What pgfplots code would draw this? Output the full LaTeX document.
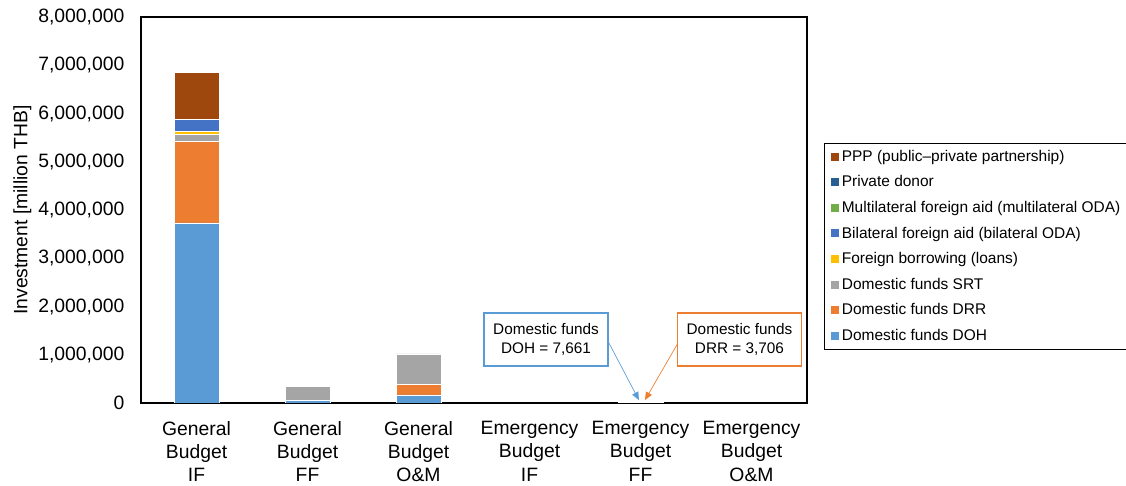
\documentclass[border=0pt]{standalone}
\usepackage{pgfplots}
\pgfplotsset{compat=1.18}
\usepackage{fontspec}
\setmainfont{Liberation Sans}
\usetikzlibrary{arrows.meta}
\definecolor{cDOH}{HTML}{5B9BD5}
\definecolor{cDRR}{HTML}{ED7D31}
\definecolor{cSRT}{HTML}{A5A5A5}
\definecolor{cLoan}{HTML}{FFC000}
\definecolor{cBil}{HTML}{4472C4}
\definecolor{cMul}{HTML}{70AD47}
\definecolor{cPriv}{HTML}{255E91}
\definecolor{cPPP}{HTML}{9E480E}
\begin{document}
\begin{tikzpicture}
\begin{axis}[
  scale only axis,
  width=499.5pt, height=289.5pt,
  ybar stacked,
  bar width=0.405,
  xmin=-0.5, xmax=5.5,
  ymin=0, ymax=8000000,
  xtick={0,1,2,3,4,5},
  xticklabels={{General\\Budget\\IF},{General\\Budget\\FF},{General\\Budget\\O\&M},{Emergency\\Budget\\IF},{Emergency\\Budget\\FF},{Emergency\\Budget\\O\&M}},
  xticklabel style={align=center, font=\fontsize{14.5}{17.6}\selectfont, yshift=-10pt},
  ytick={0,1000000,2000000,3000000,4000000,5000000,6000000,7000000,8000000},
  scaled y ticks=false,
  /pgf/number format/assume math mode=true,
  yticklabel={\pgfmathprintnumber[fixed,1000 sep={,}]{\tick}},
  yticklabel style={font=\fontsize{14.5}{17}\selectfont, xshift=-9pt},
  major tick length=0pt,
  axis line style={line width=1.5pt},
  ylabel={Investment [million THB]},
  ylabel style={font=\fontsize{14.5}{17}\selectfont, at={(axis description cs:-0.178,0.5)}, anchor=center},
  reverse legend,
  legend style={at={(axis description cs:1.0255,0.674)}, anchor=north west,
    font=\fontsize{11.6}{13}\selectfont, draw=black, line width=0.8pt,
    row sep=5.3pt, inner xsep=5pt, inner ysep=3pt},
  legend cell align=left,
  legend image code/.code={\fill[#1,draw=none] (0pt,-3pt) rectangle (6pt,3pt);},
  every axis plot/.append style={draw=white, line width=0.4pt},
]
\addplot[fill=cDOH] coordinates {(0,3735000) (1,50000) (2,170000) (3,0) (4,7661) (5,0)};
\addlegendentry{Domestic funds DOH}
\addplot[fill=cDRR] coordinates {(0,1690000) (1,0) (2,220000) (3,0) (4,3706) (5,0)};
\addlegendentry{Domestic funds DRR}
\addplot[fill=cSRT] coordinates {(0,150000) (1,295000) (2,630000) (3,0) (4,0) (5,0)};
\addlegendentry{Domestic funds SRT}
\addplot[fill=cLoan] coordinates {(0,50000) (1,0) (2,0) (3,0) (4,0) (5,0)};
\addlegendentry{Foreign borrowing (loans)}
\addplot[fill=cBil] coordinates {(0,250000) (1,0) (2,0) (3,0) (4,0) (5,0)};
\addlegendentry{Bilateral foreign aid (bilateral ODA)}
\addplot[fill=cMul] coordinates {(0,0) (1,0) (2,0) (3,0) (4,0) (5,0)};
\addlegendentry{Multilateral foreign aid (multilateral ODA)}
\addplot[fill=cPriv] coordinates {(0,0) (1,0) (2,0) (3,0) (4,0) (5,0)};
\addlegendentry{Private donor}
\addplot[fill=cPPP] coordinates {(0,985000) (1,0) (2,0) (3,0) (4,0) (5,0)};
\addlegendentry{PPP (public{\textendash}private partnership)}
\node[draw=cDOH, line width=1.3pt, fill=white, align=center, minimum width=93pt, minimum height=40pt, font=\fontsize{11.5}{14}\selectfont] at (axis cs:3.149,1320000) {Domestic funds\\DOH = 7,661};
\node[draw=cDRR, line width=1.3pt, fill=white, align=center, minimum width=93pt, minimum height=40pt, font=\fontsize{11.5}{14}\selectfont] at (axis cs:4.892,1320000) {Domestic funds\\DRR = 3,706};
\draw[cDOH, line width=0.5pt, -{Triangle[length=6pt,width=5pt]}] (axis cs:3.707,1280000) -- (axis cs:3.986,60000);
\draw[cDRR, line width=0.5pt, -{Triangle[length=6pt,width=5pt]}] (axis cs:4.347,1280000) -- (axis cs:4.04,60000);
\coordinate (bbsw) at (rel axis cs:0,0);
\coordinate (bbne) at (rel axis cs:1,1);
\end{axis}
\pgfresetboundingbox
\path ([shift={(-105.75pt,-62.25pt)}]bbsw) rectangle ([shift={(239.25pt,12.75pt)}]bbne);
\end{tikzpicture}
\end{document}
